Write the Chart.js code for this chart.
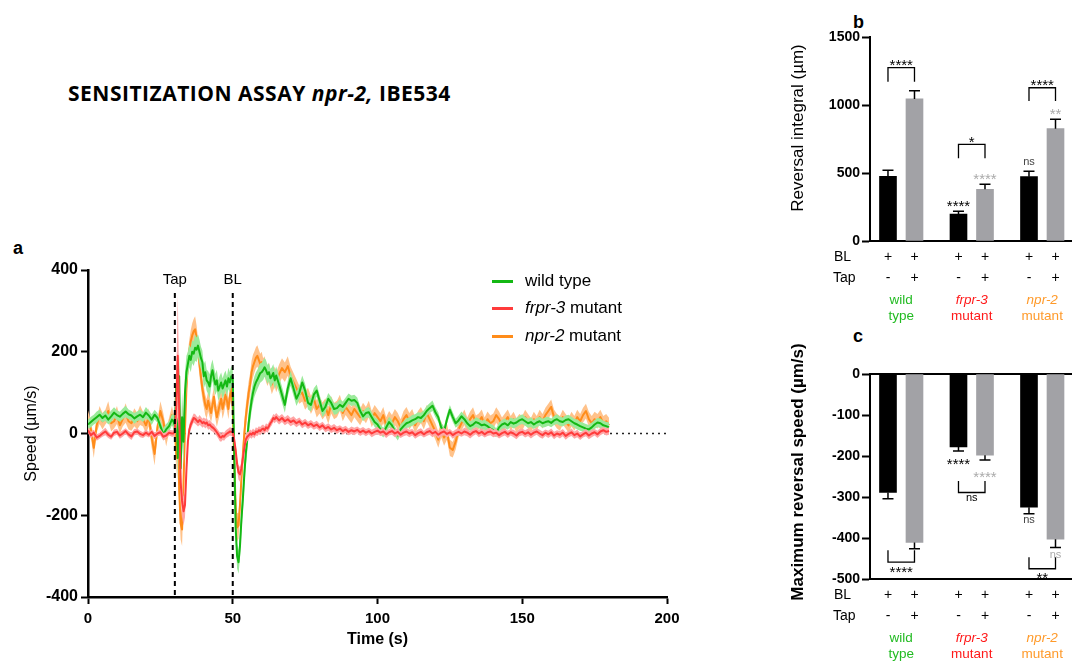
<!DOCTYPE html>
<html><head><meta charset="utf-8">
<script src="https://cdn.jsdelivr.net/npm/chart.js@4.4.1/dist/chart.umd.min.js"></script>
<style>
html,body{margin:0;padding:0;background:#fff;overflow:hidden;width:1072px;height:661px;position:relative;}
canvas{position:absolute;}
.t{position:absolute;white-space:nowrap;font-family:"Liberation Sans",Arial,sans-serif;color:#000;}
.leg{font-size:17px;line-height:20px;}
.sw{position:absolute;width:21px;height:3px;}
</style></head><body>
<div class="t" style="left:68px;top:81px;font-family:'Open Sans',Lato,sans-serif;font-weight:700;font-size:21px;line-height:24px;letter-spacing:0.5px;">SENSITIZATION ASSAY <i>npr-2,</i> IBE534</div>
<div class="t" style="left:13px;top:238px;font-weight:700;font-size:18px;line-height:20px;">a</div>
<div class="t" style="left:853px;top:12px;font-weight:700;font-size:18px;line-height:20px;">b</div>
<div class="t" style="left:853px;top:326px;font-weight:700;font-size:18px;line-height:20px;">c</div>

<canvas id="ca" width="700" height="411" style="left:0;top:250px"></canvas>
<canvas id="cb" width="292" height="330" style="left:780px;top:0"></canvas>
<canvas id="cc" width="292" height="331" style="left:780px;top:330px"></canvas>

<div class="sw" style="left:492px;top:280px;background:#14b814"></div>
<div class="t leg" style="left:525px;top:271px;">wild type</div>
<div class="sw" style="left:492px;top:307px;background:#ff3b3b"></div>
<div class="t leg" style="left:525px;top:298px;"><i>frpr-3</i> mutant</div>
<div class="sw" style="left:492px;top:335px;background:#ff8c1a"></div>
<div class="t leg" style="left:525px;top:326px;"><i>npr-2</i> mutant</div>

<script>
// ---------- DATA: panel a (speed traces, µm/s) ----------
const timesPre = [0,1,2,3,4,5,6,7,8,9,10,11,12,13,14,15,16,17,18,19,20,21,22,23,24,25,26,27,28,29];
const timesEvent = [29.5,30,30.5,31,31.5,32,32.5,33,33.5,34,
  34.5,35,35.5,36,36.5,37,37.5,38,38.5,39,
  39.5,40,40.5,41,41.5,42,42.5,43,43.5,44,
  44.5,45,45.5,46,46.5,47,47.5,48,48.5,49,
  49.5,50,50.5,51,51.5,52,52.5,53,53.5,54,
  54.5,55,55.5,56,56.5,57,57.5,58,58.5,59,
  59.5,60,60.5,61,61.5,62,62.5,63,63.5,64,
  64.5,65];
const timesPost = [66,67,68,69,70,71,72,73,74,75,76,77,78,79,80,81,82,83,84,85,
  86,87,88,89,90,91,92,93,94,95,96,97,98,99,100,101,102,103,104,105,
  106,107,108,109,110,111,112,113,114,115,116,117,118,119,120,121,122,123,124,125,
  126,127,128,129,130,131,132,133,134,135,136,137,138,139,140,141,142,143,144,145,
  146,147,148,149,150,151,152,153,154,155,156,157,158,159,160,161,162,163,164,165,
  166,167,168,169,170,171,172,173,174,175,176,177,178,179,180];

const wtPre = [22,28,34,40,46,38,44,34,42,51, 45,41,48,54,47,44,37,42,46,40, 51,44,34,46,38,18,-2,10,18,34];
const wtEvent = [30,20,120,-60,140,-85,40,-20,100,150,
  170,190,180,200,195,210,205,215,200,185,
  175,140,150,130,125,115,140,155,135,120,
  130,105,115,125,110,120,130,115,135,125,
  140,135,-40,-230,-300,-315,-275,-210,-160,-100,
  -50,-15,25,55,80,100,115,125,132,140,
  148,150,155,162,155,145,150,135,140,148,
  130,142];
const wtPost = [120,95,70,110,135,110,85,100,125,105,
  75,70,95,105,80,55,65,85,75,60,
  62,70,65,75,85,80,82,75,55,42,
  50,52,40,28,22,10,2,15,28,20,
  5,-5,10,18,25,28,32,35,40,38,
  45,55,62,68,52,40,15,5,35,58,
  40,25,32,42,35,25,18,22,28,25,
  20,22,18,12,8,2,15,22,25,20,
  28,24,27,32,35,30,25,28,22,27,
  30,25,28,30,26,32,35,30,28,33,
  35,30,25,22,18,15,12,10,15,22,
  27,25,20,18,15];
const wtSemPre = [12,13,12,14,12,11,13,12,14,13, 12,12,13,14,12,11,13,12,13,12, 14,12,13,12,12,14,15,13,12,14];
const wtSemEvent = [15,30,55,60,60,65,60,55,50,40,
  30,28,30,28,30,32,30,28,30,28,
  28,30,28,26,28,30,28,26,28,26,
  26,25,26,24,25,26,24,25,26,25,
  25,26,30,35,30,28,30,32,32,32,
  30,30,28,28,26,26,25,25,24,24,
  24,23,24,23,24,23,22,23,22,22,
  22,22];
const wtSemPost = [20,20,19,19,18,18,18,17,17,17, 16,16,16,15,15,15,15,14,14,14,
  14,14,13,13,13,13,13,13,12,12, 12,13,12,12,13,12,12,12,13,12,
  12,12,13,12,12,12,13,12,12,13, 12,12,12,13,12,12,11,12,12,12,
  12,11,12,12,11,12,12,11,12,12, 11,12,11,12,12,11,12,11,12,11,
  11,12,11,11,12,11,11,12,11,11, 11,11,12,11,11,11,12,11,11,11,
  11,11,11,12,11,11,11,11,12,11, 11,12,11,11,12];

const frprPre = [8,-4,2,-10,-6,0,5,-3,-8,2, 4,-5,0,6,-2,-7,3,5,-1,-4, 2,-3,4,-6,0,3,-8,-5,2,0];
const frprEvent = [0,5,70,190,60,-120,-165,-190,-175,-90,
  -20,10,22,30,38,36,32,28,33,30,
  25,28,24,27,20,22,18,15,12,8,
  3,-2,-8,-10,-6,-8,-3,0,2,5,
  4,3,-15,-40,-75,-95,-100,-85,-60,-35,
  -15,-8,-5,0,-3,2,-2,5,3,8,
  6,10,12,8,15,12,18,25,30,38,
  35,40];
const frprPost = [32,38,30,35,28,32,25,30,22,27,
  20,24,18,22,15,20,12,16,10,14,
  8,12,6,10,4,8,5,9,3,7,
  2,6,0,4,7,2,5,-2,3,6,
  0,4,-3,2,5,0,3,-4,1,4,
  -2,3,6,0,4,-3,2,5,-1,3,
  -4,1,4,0,5,2,-3,3,6,0,
  4,-2,3,5,0,2,-4,1,4,-2,
  3,0,-5,2,4,-1,3,-3,2,5,
  0,-4,2,-2,3,-5,0,-3,2,-6,
  -1,3,-4,0,-7,-2,2,-5,0,3,
  -2,5,8,4,6];
const frprSemPre = [7,8,7,8,7,8,9,8,7,8, 7,8,8,7,8,9,8,7,8,7, 8,7,8,8,7,8,9,8,7,8];
const frprSemEvent = [8,10,60,150,60,35,40,35,30,25,
  15,12,12,11,11,12,11,11,12,11,
  11,11,12,11,11,11,11,10,11,10,
  10,10,11,10,10,10,10,10,10,10,
  10,10,12,14,16,18,18,16,15,14,
  12,11,10,10,10,10,10,10,10,10,
  10,10,10,10,10,10,10,10,10,10,
  10,10];
const frprSemPost = [10,10,10,10,10,10,10,9,9,9, 9,9,9,9,9,9,9,9,9,9,
  9,8,9,9,8,9,9,8,9,9, 9,8,9,9,9,8,9,9,8,9,
  9,9,8,9,9,9,8,9,9,9, 8,9,9,9,8,9,9,9,9,8,
  9,9,9,8,9,9,9,9,8,9, 9,8,9,9,9,9,8,9,9,9,
  8,9,9,9,8,9,9,9,9,8, 9,9,8,9,9,9,8,9,9,9,
  8,9,9,9,9,8,9,9,9,8, 9,9,8,9,9];

const nprPre = [35,10,-35,20,45,30,40,55,25,30, 45,20,35,50,30,25,40,30,45,35, 20,40,-10,-50,15,55,30,-10,20,45];
const nprEvent = [30,20,-60,50,-140,-220,-235,-120,10,110,
  170,200,225,240,250,255,235,205,170,140,
  110,90,70,60,80,65,50,70,90,60,
  40,55,70,85,60,75,95,80,60,90,
  110,60,-60,-180,-230,-225,-175,-110,-50,0,
  40,70,100,120,150,165,175,185,190,180,
  170,175,160,165,150,140,150,135,120,130,
  140,125];
const nprPost = [145,160,150,165,140,125,110,95,100,80,
  90,70,85,60,70,55,65,45,70,55,
  60,75,50,65,55,45,60,50,40,55,
  45,60,35,50,40,30,45,20,35,25,
  40,30,15,35,45,30,40,20,35,45,
  30,50,35,20,5,-15,10,-10,5,-35,
  -40,-20,10,25,40,20,35,45,25,30,
  40,20,35,25,30,45,35,20,30,40,
  25,35,20,30,25,40,30,20,35,25,
  40,30,45,55,65,40,30,25,40,30,
  20,35,25,40,30,45,55,35,25,35,
  30,40,25,30,20];
const nprSemPre = [22,20,25,18,22,20,18,24,20,18, 22,20,18,24,20,18,22,20,24,18, 20,22,25,28,20,24,20,22,18,22];
const nprSemEvent = [20,25,45,50,45,40,40,35,30,30,
  30,30,28,30,30,32,30,28,30,28,
  26,25,25,24,25,24,24,25,24,24,
  24,24,25,24,24,25,24,24,25,24,
  25,25,35,40,35,32,30,30,30,30,
  30,30,28,28,28,28,26,26,26,25,
  25,25,24,24,24,24,24,24,24,24,
  24,24];
const nprSemPost = [24,24,24,24,23,23,23,22,22,22, 22,22,22,21,21,21,21,21,21,20,
  20,20,20,20,20,20,20,20,20,20, 20,20,20,20,20,20,20,20,20,20,
  20,20,20,20,20,20,20,20,20,20, 20,20,20,20,20,20,20,20,20,20,
  19,19,19,19,19,19,19,19,19,19, 19,19,19,19,19,19,19,19,19,19,
  18,18,18,18,18,18,18,18,18,18, 18,18,18,18,18,18,18,18,18,18,
  18,18,18,18,18,18,18,18,18,18, 18,18,18,18,18];

const eventTimes = [30, 50];
const eventLabels = ['Tap', 'BL'];
const speedTicks = {min:-400, max:400, step:200};
const timeTicks = {min:0, max:200, step:50};

// ---------- DATA: panels b, c ----------
const groups = ['wild type', 'frpr-3 mutant', 'npr-2 mutant'];
const groupLines = [['wild','type'], ['frpr-3','mutant'], ['npr-2','mutant']];
const blRow = ['+', '+'];
const tapRow = ['-', '+'];
const integralBL = [475, 198, 473];
const integralBLsem = [45, 20, 39];
const integralTap = [1045, 380, 826];
const integralTapSem = [60, 37, 69];
const speedBL = [-289, -178, -325];
const speedBLsem = [15, 10, 16];
const speedTap = [-411, -198, -403];
const speedTapSem = [15, 12, 20];
// significance brackets: [group, bracket level, leg end level, label]
const bracketsB = [[0, 1275, 1171, '****'], [1, 711, 608, '*'], [2, 1127, 1029, '****']];
const marksB = [[1, 0, 282, '****'], [1, 1, 485, '****'], [2, 0, 583, 'ns'], [2, 1, 963, '**']];
const bracketsC = [[0, -459, -430, '****'], [1, -289, -261, 'ns'], [2, -475, -447, '**']];
const marksC = [[1, 0, -210, '****'], [1, 1, -243, '****'], [2, 0, -357, 'ns'], [2, 1, -443, 'ns']];

// ---------- styling ----------
const FONT = '"Liberation Sans", Arial, sans-serif';
const COLORS = {
  wt: {line:'#14b814', band:'#9bea9b', text:'#22bb22'},
  frpr: {line:'#ff3b3b', band:'#ffa6a6', text:'#ff1a1a'},
  npr: {line:'#ff8c1a', band:'#ffc28a', text:'#ff9a2a'}
};
const groupColors = [COLORS.wt.text, COLORS.frpr.text, COLORS.npr.text];
const groupItalic = [[false,false],[true,false],[true,false]];
const barColors = ['#000000', '#a2a2a6'];
const markColors = {dark:'#000', ns:'#444', light:'#aaaaaa'};
const BAR_SHIFT = 0.188, X_MIN = -0.443, X_MAX = 2.422;

const times = timesPre.concat(timesEvent, timesPost);
function series(pre, ev, post){ return pre.concat(ev, post); }
const traces = [
  {key:'npr', mean: series(nprPre, nprEvent, nprPost), sem: series(nprSemPre, nprSemEvent, nprSemPost)},
  {key:'wt', mean: series(wtPre, wtEvent, wtPost), sem: series(wtSemPre, wtSemEvent, wtSemPost)},
  {key:'frpr', mean: series(frprPre, frprEvent, frprPost), sem: series(frprSemPre, frprSemEvent, frprSemPost)}
];

const dsA = [];
traces.forEach((tr, k) => {
  const c = COLORS[tr.key];
  const base = 30 - k*3;
  const n = Math.min(times.length, tr.mean.length, tr.sem.length);
  const lo = [], hi = [], mid = [];
  for (let i = 0; i < n; i++) {
    lo.push({x: times[i], y: tr.mean[i] - tr.sem[i]});
    hi.push({x: times[i], y: tr.mean[i] + tr.sem[i]});
    mid.push({x: times[i], y: tr.mean[i]});
  }
  dsA.push({data: lo, borderWidth: 0, pointRadius: 0, fill: false, order: base});
  dsA.push({data: hi, borderWidth: 0, pointRadius: 0, fill: '-1', backgroundColor: c.band, order: base - 1});
  dsA.push({data: mid, borderColor: c.line, borderWidth: 2, pointRadius: 0, fill: false, order: base - 2, borderJoinStyle: 'round'});
});

const plugA = {
  id: 'plugA',
  beforeDatasetsDraw(ch) {
    const {ctx, scales: {x, y}} = ch;
    ctx.save();
    ctx.setLineDash([2, 4]); ctx.lineWidth = 1.3; ctx.strokeStyle = '#222';
    ctx.beginPath();
    ctx.moveTo(x.getPixelForValue(timeTicks.min), y.getPixelForValue(0));
    ctx.lineTo(x.getPixelForValue(timeTicks.max), y.getPixelForValue(0));
    ctx.stroke();
    ctx.restore();
  },
  afterDatasetsDraw(ch) {
    const {ctx, scales: {x}, chartArea: ca} = ch;
    ctx.save();
    ctx.setLineDash([5, 4]); ctx.lineWidth = 2; ctx.strokeStyle = '#000';
    eventTimes.forEach((t, i) => {
      const px = x.getPixelForValue(t);
      ctx.beginPath(); ctx.moveTo(px, ca.top + 23); ctx.lineTo(px, ca.bottom); ctx.stroke();
      ctx.fillStyle = '#000'; ctx.font = '15px ' + FONT; ctx.textAlign = 'center'; ctx.textBaseline = 'middle';
      ctx.fillText(eventLabels[i], px, ca.top + 10);
    });
    ctx.restore();
  },
  afterDraw(ch) {
    const {ctx, chartArea: ca} = ch;
    ctx.save();
    ctx.fillStyle = '#000'; ctx.textAlign = 'center'; ctx.textBaseline = 'middle';
    ctx.font = 'bold 16px ' + FONT;
    ctx.fillText('Time (s)', (ca.left + ca.right) / 2, ca.bottom + 43);
    ctx.translate(32, (ca.top + ca.bottom) / 2);
    ctx.rotate(-Math.PI / 2);
    ctx.font = '16px ' + FONT;
    ctx.fillText('Speed (µm/s)', 0, 0);
    ctx.restore();
  }
};

const axisGrid = {drawOnChartArea: false, drawTicks: true, tickLength: 7, tickWidth: 2, tickColor: '#000'};
new Chart(document.getElementById('ca'), {
  type: 'line',
  data: {datasets: dsA},
  options: {
    animation: false, responsive: false, devicePixelRatio: 1, events: [],
    layout: {padding: {top: 20, right: 33, left: 0, bottom: 0}},
    plugins: {legend: {display: false}, tooltip: {enabled: false}},
    scales: {
      x: {type: 'linear', min: timeTicks.min, max: timeTicks.max,
        ticks: {stepSize: timeTicks.step, color: '#000', font: {family: FONT, size: 15, weight: 'bold'}, padding: 6, callback: v => String(v)},
        grid: axisGrid, border: {width: 2.5, color: '#000'},
        afterFit: s => { s.height = 64; }},
      y: {type: 'linear', min: speedTicks.min, max: speedTicks.max,
        ticks: {stepSize: speedTicks.step, color: '#000', font: {family: FONT, size: 16, weight: 'bold'}, padding: 3, callback: v => String(v)},
        grid: axisGrid, border: {width: 2.5, color: '#000'},
        afterFit: s => { s.width = 88; }}
    }
  },
  plugins: [plugA]
});

function textCenter(ctx, text, x, yc, size, color, kind) {
  ctx.fillStyle = color;
  ctx.textAlign = 'center';
  ctx.textBaseline = 'alphabetic';
  ctx.font = size + 'px ' + FONT;
  ctx.fillText(text, x, yc + (kind === 'star' ? 0.575 : 0.26) * size);
}

function makeBars(id, cfg) {
  const vals = [cfg.bl, cfg.tap], sems = [cfg.blSem, cfg.tapSem];
  const datasets = vals.map((v, d) => ({
    data: groups.map((g, i) => ({x: i + (d === 0 ? -BAR_SHIFT : BAR_SHIFT), y: v[i]})),
    backgroundColor: barColors[d], barThickness: 17, grouped: false, borderWidth: 0
  }));
  const hidden = {offset: false, ticks: {display: false}, grid: {display: false, offset: false}, border: {display: true, width: 2, color: '#000'}};
  const scales = {
    x: Object.assign({type: 'linear', min: X_MIN, max: X_MAX, position: 'bottom', afterFit: s => { s.height = 0; }}, hidden),
    y: {type: 'linear', min: cfg.min, max: cfg.max,
      ticks: {stepSize: cfg.step, color: '#000', font: {family: FONT, size: 14, weight: 'bold'}, padding: 2, callback: v => String(v)},
      grid: {drawOnChartArea: false, drawTicks: true, tickLength: 8, tickWidth: 2, tickColor: '#000'},
      border: {width: 2, color: '#000'}, afterFit: s => { s.width = 90; }}
  };
  if (cfg.topLine) scales.xTop = Object.assign({type: 'linear', min: X_MIN, max: X_MAX, position: 'top', afterFit: s => { s.height = 0; }}, hidden);
  const plug = {
    id: 'bars' + id,
    afterDatasetsDraw(ch) {
      const {ctx, scales: {y}} = ch;
      ctx.save();
      ctx.strokeStyle = '#000'; ctx.lineWidth = 1.5;
      [0, 1].forEach(d => {
        ch.getDatasetMeta(d).data.forEach((el, i) => {
          const y0 = y.getPixelForValue(vals[d][i]);
          const y1 = y.getPixelForValue(vals[d][i] + cfg.dir * sems[d][i]);
          ctx.beginPath(); ctx.moveTo(el.x, y0); ctx.lineTo(el.x, y1);
          ctx.moveTo(el.x - 5.5, y1); ctx.lineTo(el.x + 5.5, y1); ctx.stroke();
        });
      });
      ctx.lineWidth = 1.3;
      cfg.brackets.forEach(([g, lvl, leg, label]) => {
        const xa = ch.getDatasetMeta(0).data[g].x, xb = ch.getDatasetMeta(1).data[g].x;
        const yl = y.getPixelForValue(lvl), yg = y.getPixelForValue(leg);
        ctx.beginPath(); ctx.moveTo(xa, yg); ctx.lineTo(xa, yl); ctx.lineTo(xb, yl); ctx.lineTo(xb, yg); ctx.stroke();
        const yc = yl - cfg.dir * 6;
        const isNs = label === 'ns';
        textCenter(ctx, label, (xa + xb) / 2, yc, isNs ? 11 : 15, markColors.dark, isNs ? 'ns' : 'star');
      });
      cfg.marks.forEach(([g, d, lvl, label]) => {
        const el = ch.getDatasetMeta(d).data[g];
        const isNs = label === 'ns';
        const col = d === 1 ? markColors.light : (isNs ? markColors.ns : markColors.dark);
        textCenter(ctx, label, el.x, y.getPixelForValue(lvl), isNs ? 11 : 15, col, isNs ? 'ns' : 'star');
      });
      ctx.restore();
    },
    afterDraw(ch) {
      const {ctx, chartArea: ca, scales: {x}} = ch;
      const b = ca.bottom;
      ctx.save();
      ctx.fillStyle = '#000'; ctx.textBaseline = 'middle'; ctx.textAlign = 'left';
      ctx.font = '14px ' + FONT;
      ctx.fillText('BL', ca.left - 36, b + 16);
      ctx.fillText('Tap', ca.left - 37, b + 37);
      ctx.textAlign = 'center';
      [0, 1].forEach(d => {
        ch.getDatasetMeta(d).data.forEach(el => {
          ctx.fillText(blRow[d], el.x, b + 16);
          ctx.fillText(tapRow[d], el.x, b + 37);
        });
      });
      groupLines.forEach((lines, i) => {
        const px = x.getPixelForValue(i);
        lines.forEach((ln, j) => {
          ctx.font = (groupItalic[i][j] ? 'italic ' : '') + '13.5px ' + FONT;
          ctx.fillStyle = groupColors[i];
          ctx.fillText(ln, px, b + 59 + j * 16);
        });
      });
      ctx.translate(18, cfg.titleY);
      ctx.rotate(-Math.PI / 2);
      ctx.fillStyle = '#000';
      ctx.font = cfg.titleWeight + ' 17px ' + FONT;
      ctx.fillText(cfg.title, 0, 0);
      ctx.restore();
    }
  };
  new Chart(document.getElementById(id), {
    type: 'bar',
    data: {datasets},
    options: {
      animation: false, responsive: false, devicePixelRatio: 1, events: [],
      layout: {padding: {top: cfg.padTop, bottom: cfg.padBottom, left: 0, right: 0}},
      plugins: {legend: {display: false}, tooltip: {enabled: false}},
      scales
    },
    plugins: [plug]
  });
}

makeBars('cb', {bl: integralBL, blSem: integralBLsem, tap: integralTap, tapSem: integralTapSem,
  min: 0, max: 1500, step: 500, dir: 1, padTop: 37, padBottom: 89, topLine: false,
  brackets: bracketsB, marks: marksB, title: 'Reversal integral (µm)', titleY: 128, titleWeight: 'normal'});
makeBars('cc', {bl: speedBL, blSem: speedBLsem, tap: speedTap, tapSem: speedTapSem,
  min: -500, max: 0, step: 100, dir: -1, padTop: 44, padBottom: 82, topLine: true,
  brackets: bracketsC, marks: marksC, title: 'Maximum reversal speed (µm/s)', titleY: 142, titleWeight: 'bold'});
</script>
</body></html>
